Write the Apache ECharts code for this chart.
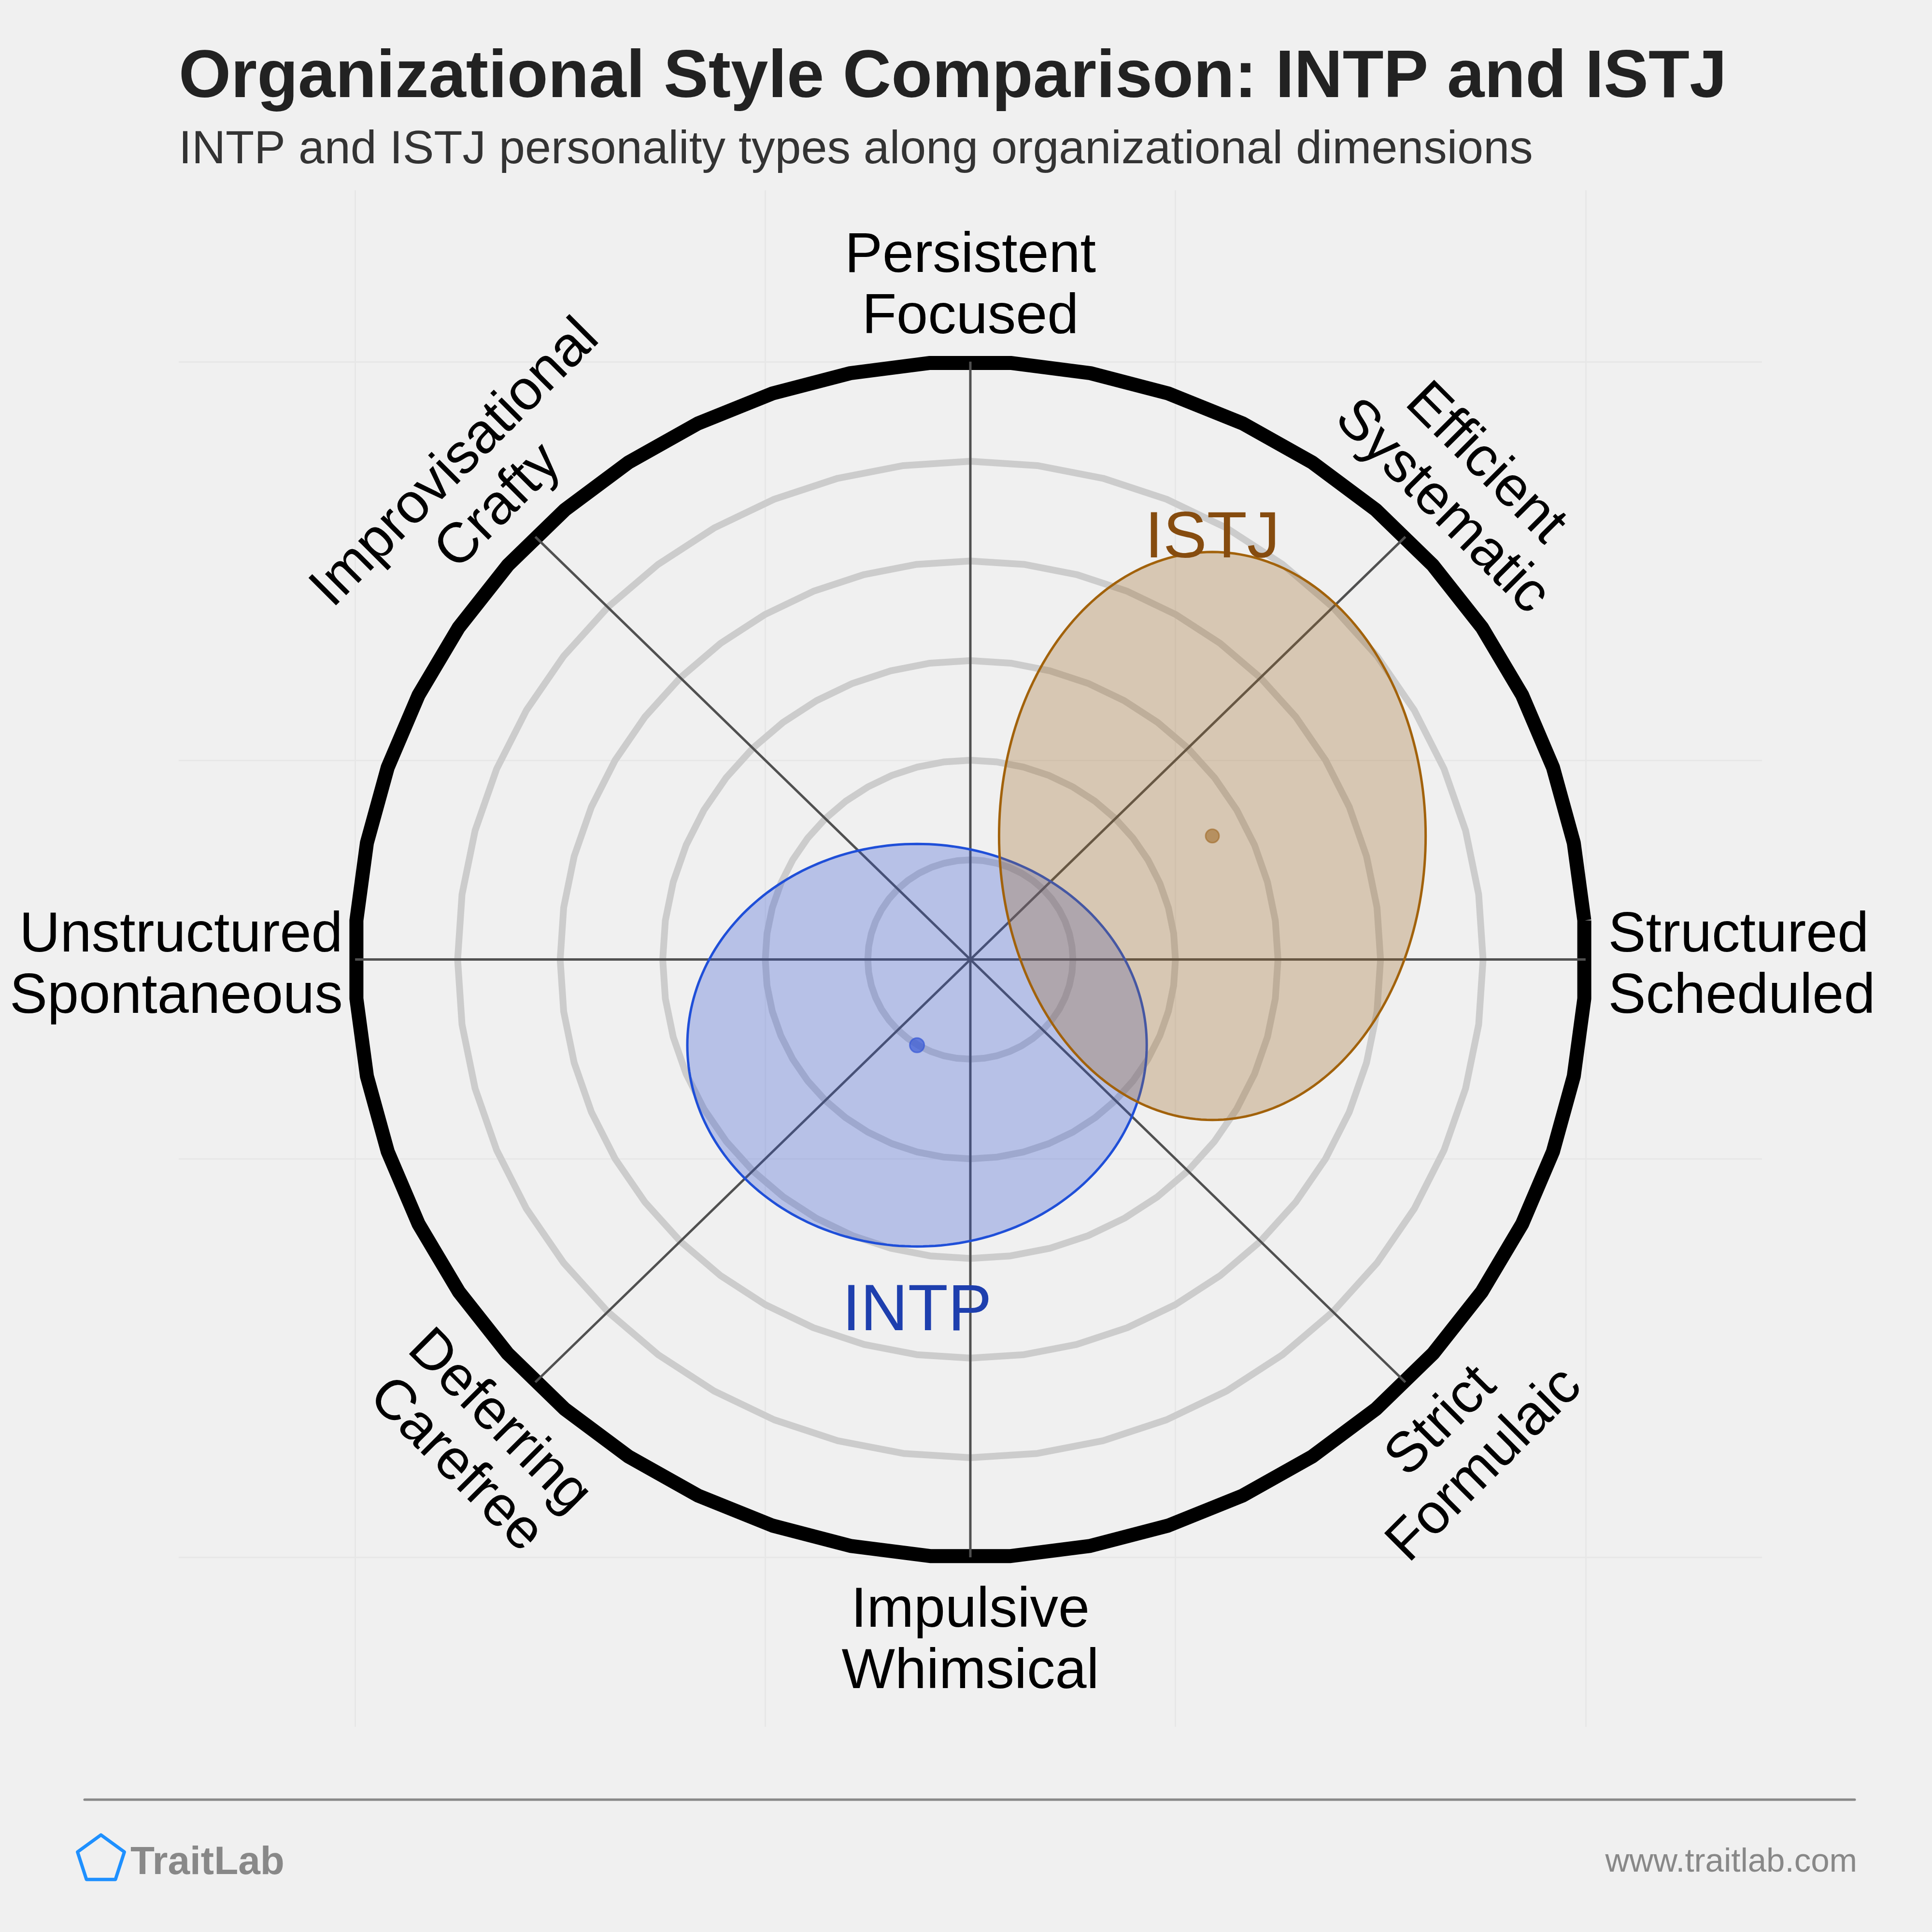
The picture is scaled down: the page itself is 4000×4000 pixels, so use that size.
<!DOCTYPE html>
<html>
<head>
<meta charset="utf-8">
<script src="https://cdn.jsdelivr.net/npm/echarts@6/dist/echarts.min.js"></script>
<style>
html,body{margin:0;padding:0;background:#f0f0f0;}
#chart{width:4000px;height:4000px;}
</style>
</head>
<body>
<div id="chart"></div>
<script>
// ---------------- data ----------------
const CATEGORIES = ['Structured\nScheduled', 'Efficient\nSystematic', 'Persistent\nFocused',
  'Improvisational\nCrafty', 'Unstructured\nSpontaneous', 'Deferring\nCarefree',
  'Impulsive\nWhimsical', 'Strict\nFormulaic'];
const CATEGORY_ANGLES = [0, 45, 90, 135, 180, 225, 270, 315];
const RINGS = [1, 2, 3, 4, 5, 6];
const BACKDROP_TICKS = [-6, -2, 2, 6];
const TYPES = ['INTP', 'ISTJ'];
const TYPE_X = [-0.52, 2.36];
const TYPE_Y = [-0.86, 1.24];
const SPREAD_X = [2.24, 2.08];
const SPREAD_Y = [2.02, 2.85];

// ---------------- styles ----------------
const FONT = "'Liberation Sans', Arial, Helvetica, sans-serif";
const TYPE_FILL = ['rgba(53,87,213,0.30)', 'rgba(160,107,40,0.30)'];
const TYPE_EDGE = ['#1f4fd8', '#a2620b'];
const TYPE_DOT = ['rgba(53,87,213,0.68)', 'rgba(160,107,40,0.60)'];
const TYPE_TEXT = ['#1e3fae', '#864c0f'];
const TYPE_LABEL_DY = [-0.66, 0.13]; // label offset beyond ellipse edge
const OUTER = RINGS[RINGS.length - 1];
const SIDES = 48;

function ringPoints(r, offsetDeg) {
  const pts = [];
  for (let i = 0; i <= SIDES; i++) {
    const a = (offsetDeg + i * 360 / SIDES) * Math.PI / 180;
    pts.push([r * Math.cos(a), r * Math.sin(a)]);
  }
  return pts;
}

const series = [];

// faint backdrop grid
series.push({
  type: 'line', data: [], z: 1, silent: true, animation: false,
  markLine: {
    z: 1, silent: true, symbol: ['none', 'none'], label: { show: false },
    lineStyle: { color: '#e7e7e7', width: 3, type: 'solid' },
    emphasis: { disabled: true },
    data: BACKDROP_TICKS.map(v => ({ xAxis: v })).concat(BACKDROP_TICKS.map(v => ({ yAxis: v })))
  }
});

// rings
RINGS.forEach((r, i) => {
  const outer = i === RINGS.length - 1;
  series.push({
    type: 'line', data: ringPoints(r, outer ? 3.75 : 0), z: outer ? 3 : 2,
    showSymbol: false, silent: true, animation: false, smooth: false,
    lineStyle: { color: outer ? '#000000' : '#cccccc', width: outer ? 29 : 14 }
  });
});

// spokes
for (let k = 0; k < 4; k++) {
  const a = CATEGORY_ANGLES[k] * Math.PI / 180;
  series.push({
    type: 'line', z: 4, showSymbol: false, silent: true, animation: false,
    data: [[OUTER * Math.cos(a), OUTER * Math.sin(a)], [-OUTER * Math.cos(a), -OUTER * Math.sin(a)]],
    lineStyle: { color: '#505050', width: 5 }
  });
}

// ellipses
series.push({
  type: 'custom', z: 5, silent: true, animation: false,
  data: TYPES.map((t, i) => [TYPE_X[i], TYPE_Y[i], SPREAD_X[i], SPREAD_Y[i]]),
  renderItem: function (params, api) {
    const cx = api.value(0), cy = api.value(1), rx = api.value(2), ry = api.value(3);
    const pts = [];
    for (let j = 0; j < 240; j++) {
      const t = j / 240 * Math.PI * 2;
      pts.push(api.coord([cx + rx * Math.cos(t), cy + ry * Math.sin(t)]));
    }
    const i = params.dataIndex;
    return {
      type: 'polygon', shape: { points: pts },
      style: { fill: TYPE_FILL[i], stroke: TYPE_EDGE[i], lineWidth: 5 }
    };
  }
});

// centre dots
series.push({
  type: 'scatter', z: 6, silent: true, animation: false,
  data: TYPES.map((t, i) => ({
    value: [TYPE_X[i], TYPE_Y[i]],
    symbolSize: i === 0 ? 30 : 28,
    itemStyle: { color: TYPE_DOT[i], borderColor: TYPE_DOT[i], borderWidth: 3, opacity: 1 }
  }))
});

// type labels
series.push({
  type: 'scatter', z: 7, silent: true, animation: false, symbolSize: 1,
  itemStyle: { color: 'rgba(0,0,0,0)', opacity: 1 },
  data: TYPES.map((t, i) => ({
    name: t,
    value: [TYPE_X[i], TYPE_Y[i] + (TYPE_LABEL_DY[i] < 0 ? -SPREAD_Y[i] : SPREAD_Y[i]) + TYPE_LABEL_DY[i]],
    label: { color: TYPE_TEXT[i] }
  })),
  label: {
    show: true, position: 'inside', formatter: p => p.name, opacity: 1,
    fontFamily: FONT, fontSize: 136, align: 'center', verticalAlign: 'middle'
  }
});

// axis labels
const LABEL_R = 6.8, LABEL_R_SIDE = 6.15, LABEL_DROP = -0.05, SIDE_DROP = -0.07;
series.push({
  type: 'scatter', z: 7, silent: true, animation: false, symbolSize: 1,
  itemStyle: { color: 'rgba(0,0,0,0)', opacity: 1 },
  data: CATEGORIES.map((c, i) => {
    const deg = CATEGORY_ANGLES[i];
    const a = deg * Math.PI / 180;
    const side = deg === 0 || deg === 180;
    const r = side ? LABEL_R_SIDE : LABEL_R;
    let rotate = 0, align = 'center';
    if (deg === 45 || deg === 225) rotate = -45;
    if (deg === 135 || deg === 315) rotate = 45;
    if (deg === 0) align = 'left';
    if (deg === 180) align = 'right';
    const xr = side ? (deg === 0 ? 6.22 : -6.12) : r * Math.cos(a);
    return {
      name: c, value: [xr, r * Math.sin(a) + (side ? SIDE_DROP : LABEL_DROP)],
      label: { rotate: rotate, align: align }
    };
  }),
  label: {
    show: true, position: 'inside', formatter: p => p.name, opacity: 1,
    fontFamily: FONT, fontSize: 117, lineHeight: 127, color: '#000000',
    verticalAlign: 'middle'
  }
});

const chart = echarts.init(document.getElementById('chart'), null, { renderer: 'canvas', width: 4000, height: 4000 });
chart.setOption({
  backgroundColor: '#f0f0f0',
  animation: false,
  grid: { left: 370, right: 352, top: 394, bottom: 425, containLabel: false, outerBoundsMode: 'none' },
  xAxis: { type: 'value', min: -7.72, max: 7.72, show: false },
  yAxis: { type: 'value', min: -7.70, max: 7.72, show: false },
  series: series,
  graphic: [
    { type: 'text', x: 370, y: 163, silent: true,
      style: { text: 'Organizational Style Comparison: INTP and ISTJ', fontFamily: FONT, fontSize: 139, fontWeight: 'bold',
        fill: '#222222', align: 'left', verticalAlign: 'middle', textAlign: 'left', textVerticalAlign: 'middle' } },
    { type: 'text', x: 370, y: 311, silent: true,
      style: { text: 'INTP and ISTJ personality types along organizational dimensions', fontFamily: FONT, fontSize: 97,
        fill: '#333333', align: 'left', verticalAlign: 'middle', textAlign: 'left', textVerticalAlign: 'middle' } },
    { type: 'line', silent: true, shape: { x1: 175, y1: 3726, x2: 3840, y2: 3726 },
      style: { stroke: '#888888', lineWidth: 5, lineCap: 'round' } },
    { type: 'polygon', silent: true,
      shape: { points: [0, 1, 2, 3, 4].map(k => {
        const a = (-90 + k * 72) * Math.PI / 180;
        return [209 + 51 * Math.cos(a), 3850 + 51 * Math.sin(a)];
      }) },
      style: { fill: 'none', stroke: '#1e90ff', lineWidth: 7, lineJoin: 'round' } },
    { type: 'text', x: 270, y: 3857, silent: true,
      style: { text: 'TraitLab', fontFamily: FONT, fontSize: 82, fontWeight: 'bold', fill: '#888888',
        align: 'left', verticalAlign: 'middle', textAlign: 'left', textVerticalAlign: 'middle' } },
    { type: 'text', x: 3845, y: 3856, silent: true,
      style: { text: 'www.traitlab.com', fontFamily: FONT, fontSize: 69, fill: '#888888',
        align: 'right', verticalAlign: 'middle', textAlign: 'right', textVerticalAlign: 'middle' } }
  ]
});
</script>
</body>
</html>
